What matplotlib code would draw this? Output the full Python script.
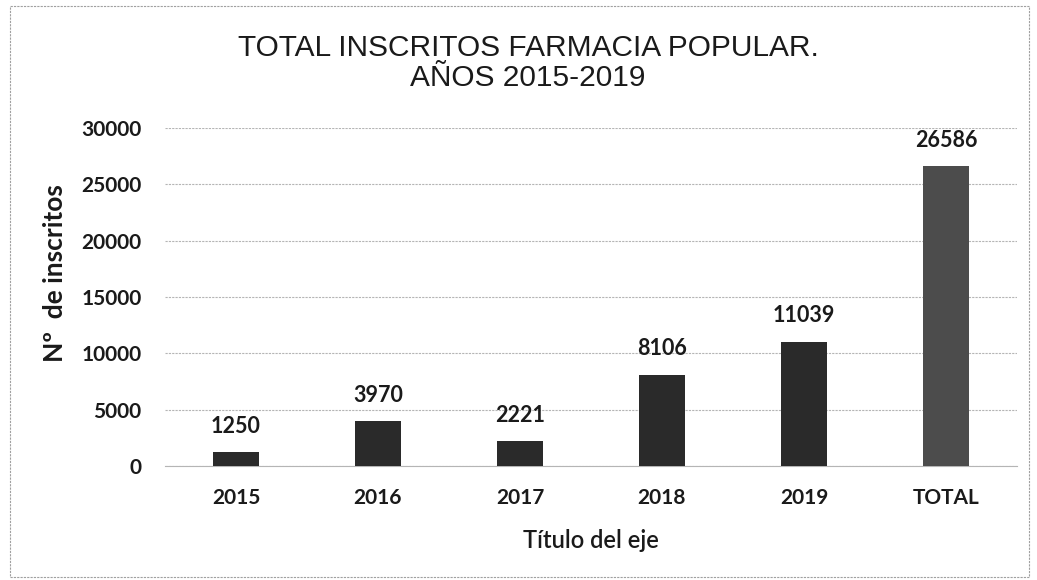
import matplotlib.pyplot as plt
from matplotlib.patches import Rectangle

categories = ["2015", "2016", "2017", "2018", "2019", "TOTAL"]
values = [1250, 3970, 2221, 8106, 11039, 26586]
yticks = [0, 5000, 10000, 15000, 20000, 25000, 30000]

fig = plt.figure(figsize=(10.37, 5.8), dpi=100)
ax = fig.add_axes([165/1037, 1-466/580, (1017-165)/1037, (466-128)/580])

colors = ["#2a2a2a"] * 5 + ["#4c4c4c"]
x = list(range(len(categories)))
ax.bar(x, values, width=0.32, color=colors, zorder=3)
for xi, v in zip(x, values):
    ax.annotate(str(v), (xi, v), xytext=(0, 11), textcoords="offset points",
                ha="center", va="bottom", fontsize=15.5, fontfamily="Lato",
                fontweight="bold", color="#1a1a1a")

ax.set_xlim(-0.5, len(categories) - 0.5)
ax.set_ylim(0, 30000)
ax.set_yticks(yticks)
ax.set_xticks(x)
ax.set_xticklabels(categories)
for lab in ax.get_yticklabels() + ax.get_xticklabels():
    lab.set_fontfamily("Lato")
    lab.set_fontweight("bold")
    lab.set_fontsize(15)
    lab.set_color("#1a1a1a")
ax.tick_params(axis="y", length=0, pad=17)
ax.tick_params(axis="x", length=0, pad=16)
ax.grid(axis="y", color="#b5b5b5", linestyle=(0, (2, 1)), linewidth=0.8, zorder=0)
for s in ["top", "right", "left"]:
    ax.spines[s].set_visible(False)
ax.spines["bottom"].set_color("#b5b5b5")
ax.spines["bottom"].set_linestyle((0, (2, 1)))
ax.spines["bottom"].set_linewidth(0.8)

fig.text(528/1037, 1-63/580, "TOTAL INSCRITOS FARMACIA POPULAR.\nAÑOS 2015-2019",
         ha="center", va="center", multialignment="center", fontsize=21.5,
         fontfamily="Liberation Sans", color="#1a1a1a", linespacing=1.1)
fig.text(55/1037, 1-273/580, "Nº  de inscritos", rotation=90, ha="center", va="center",
         fontsize=19, fontfamily="Lato", fontweight="bold", color="#1a1a1a")
fig.text(591/1037, 1-540/580, "Título del eje", ha="center", va="center",
         fontsize=17, fontfamily="Lato", fontweight="semibold", color="#1a1a1a")

fig.patches.append(Rectangle((10/1037, 0.005), 1 - 18/1037, 1 - 6/580 - 0.005,
                             transform=fig.transFigure, fill=False,
                             edgecolor="#a0a0a0", linewidth=0.8, linestyle=(0, (2, 1))))

fig.savefig("out.png", dpi=100)
